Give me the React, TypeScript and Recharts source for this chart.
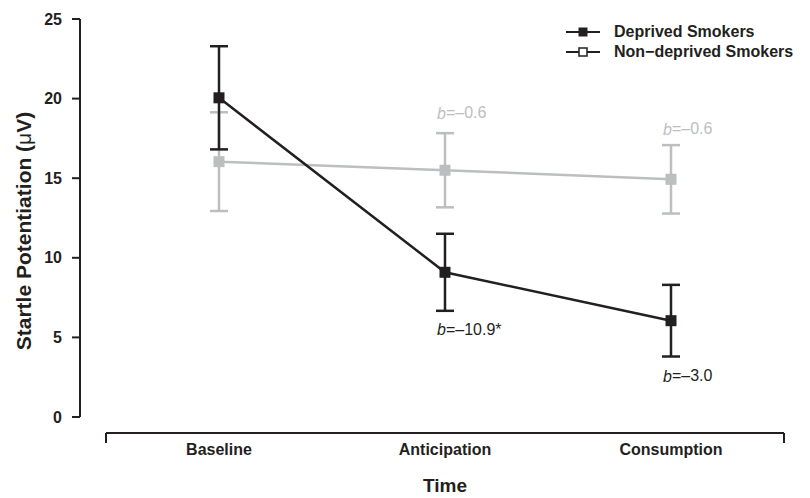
import React from "react";
import {
  ComposedChart,
  ErrorBar,
  Legend,
  Line,
  ReferenceLine,
  Scatter,
  XAxis,
  YAxis,
} from "recharts";

const categories = ["Baseline", "Anticipation", "Consumption"];
const timePoints = [1, 2, 3];
const deprivedMean = [20.05, 9.09, 6.05];
const deprivedErr = [3.24, 2.42, 2.25];
const nonDeprivedMean = [16.04, 15.5, 14.93];
const nonDeprivedErr = [3.1, 2.33, 2.15];
const yTicks = [0, 5, 10, 15, 20, 25];

// slope annotations (b values) at anticipation and consumption
const noteX = [2, 3];
const deprivedNotes = ["\u201310.9*", "\u20133.0"];
const deprivedNoteY = [5.5, 2.6];
const nonDeprivedNotes = ["\u20130.6", "\u20130.6"];
const nonDeprivedNoteY = [19.1, 18.1];

const seriesNames = ["Deprived Smokers", "Non\u2212deprived Smokers"];

const data = timePoints.map((x, i) => ({
  x,
  dep: deprivedMean[i],
  depErr: deprivedErr[i],
  non: nonDeprivedMean[i],
  nonErr: nonDeprivedErr[i],
}));

const depNoteData = noteX.map((x, i) => ({ x, y: deprivedNoteY[i], text: deprivedNotes[i] }));
const nonNoteData = noteX.map((x, i) => ({ x, y: nonDeprivedNoteY[i], text: nonDeprivedNotes[i] }));

const DARK = "#231f20";
const GRAY = "#bcbec0";
const FONT = "'Liberation Sans', Arial, Helvetica, sans-serif";

const X_DOMAIN: [number, number] = [0.385, 3.5];
const Y_DOMAIN: [number, number] = [-1.633, 25];
const X_LINE_Y = -1;

const squareDot = (color: string) => (props: any) => {
  const { cx, cy, index } = props;
  if (cx == null || cy == null) return <g key={index} />;
  return <rect key={index} x={cx - 5.5} y={cy - 5.5} width={11} height={11} fill={color} />;
};

const noteShape = (color: string) => (props: any) => {
  const { cx, cy, payload } = props;
  return (
    <text x={cx - 8} y={cy} dominantBaseline="central" fontSize={16} fontFamily={FONT} fill={color}>
      <tspan fontStyle="italic">b</tspan>={payload.text}
    </text>
  );
};

const LegendBox = () => (
  <div style={{ fontFamily: FONT, fontSize: 16, fontWeight: "bold", color: DARK }}>
    {seriesNames.map((name, i) => (
      <div key={name} style={{ display: "flex", alignItems: "center", height: 20 }}>
        <svg width={34} height={12} style={{ marginRight: 14 }}>
          <line x1={0} y1={6} x2={34} y2={6} stroke={DARK} strokeWidth={2} />
          {i === 0 ? (
            <rect x={12.5} y={1.5} width={9} height={9} fill={DARK} />
          ) : (
            <rect x={13} y={2} width={8} height={8} fill="#fff" stroke={DARK} strokeWidth={1.5} />
          )}
        </svg>
        <span>{name}</span>
      </div>
    ))}
  </div>
);

export default function App() {
  return (
    <div style={{ position: "absolute", left: 0, top: 0 }}>
      <ComposedChart width={810} height={498} data={data} margin={{ top: 19, right: 26, bottom: 0, left: 0 }}>
        <XAxis
          dataKey="x"
          type="number"
          domain={X_DOMAIN}
          allowDataOverflow
          ticks={timePoints}
          tickFormatter={(v) => categories[v - 1]}
          axisLine={false}
          tickLine={false}
          tickSize={0}
          tickMargin={1}
          height={55}
          tick={{ fontSize: 16, fontWeight: "bold", fill: DARK, fontFamily: FONT }}
          label={(p: any) => {
            const vb = p.viewBox;
            return (
              <text
                x={vb.x + vb.width / 2 + 13}
                y={vb.y + vb.height - 6}
                textAnchor="middle"
                fontSize={19}
                fontWeight="bold"
                fontFamily={FONT}
                fill={DARK}
              >
                Time
              </text>
            );
          }}
        />
        <YAxis
          type="number"
          domain={Y_DOMAIN}
          allowDataOverflow
          ticks={yTicks}
          width={80}
          axisLine={false}
          tickLine={{ stroke: DARK, strokeWidth: 2 }}
          tickSize={8}
          tickMargin={10}
          tick={{ fontSize: 16, fontWeight: "bold", fill: DARK, fontFamily: FONT }}
          label={(p: any) => {
            const vb = p.viewBox;
            const cy = vb.y + vb.height / 2;
            return (
              <text
                x={23}
                y={cy}
                transform={`rotate(-90 23 ${cy})`}
                textAnchor="middle"
                dominantBaseline="central"
                fontSize={21}
                fontWeight="bold"
                fontFamily={FONT}
                fill={DARK}
              >
                Startle Potentiation (<tspan fontWeight="normal">μ</tspan>V)
              </text>
            );
          }}
        />
        <Legend
          layout="vertical"
          align="center"
          verticalAlign="middle"
          wrapperStyle={{ left: 566, top: 22, width: 244 }}
          content={() => <LegendBox />}
        />
        {/* y axis line from 0 to 25 */}
        <ReferenceLine
          segment={[{ x: X_DOMAIN[0], y: 0 }, { x: X_DOMAIN[0], y: 25 }]}
          stroke={DARK}
          strokeWidth={2}
          ifOverflow="visible"
        />
        {/* bracket-shaped x axis */}
        <ReferenceLine
          segment={[{ x: 0.5, y: X_LINE_Y }, { x: 3.5, y: X_LINE_Y }]}
          stroke={DARK}
          strokeWidth={2}
          ifOverflow="visible"
        />
        <ReferenceLine
          segment={[{ x: 0.5, y: X_LINE_Y }, { x: 0.5, y: Y_DOMAIN[0] }]}
          stroke={DARK}
          strokeWidth={2}
          ifOverflow="visible"
        />
        <ReferenceLine
          segment={[{ x: 3.5, y: X_LINE_Y }, { x: 3.5, y: Y_DOMAIN[0] }]}
          stroke={DARK}
          strokeWidth={2}
          ifOverflow="visible"
        />
        <Line
          dataKey="non"
          name={seriesNames[1]}
          stroke={GRAY}
          strokeWidth={2.5}
          dot={squareDot(GRAY)}
          activeDot={false}
          isAnimationActive={false}
        >
          <ErrorBar dataKey="nonErr" width={9} stroke={GRAY} strokeWidth={2.5} direction="y" isAnimationActive={false} />
        </Line>
        <Line
          dataKey="dep"
          name={seriesNames[0]}
          stroke={DARK}
          strokeWidth={2.5}
          dot={squareDot(DARK)}
          activeDot={false}
          isAnimationActive={false}
        >
          <ErrorBar dataKey="depErr" width={9} stroke={DARK} strokeWidth={2.5} direction="y" isAnimationActive={false} />
        </Line>
        <Scatter data={nonNoteData} dataKey="y" shape={noteShape(GRAY)} legendType="none" isAnimationActive={false} />
        <Scatter data={depNoteData} dataKey="y" shape={noteShape(DARK)} legendType="none" isAnimationActive={false} />
      </ComposedChart>
    </div>
  );
}
